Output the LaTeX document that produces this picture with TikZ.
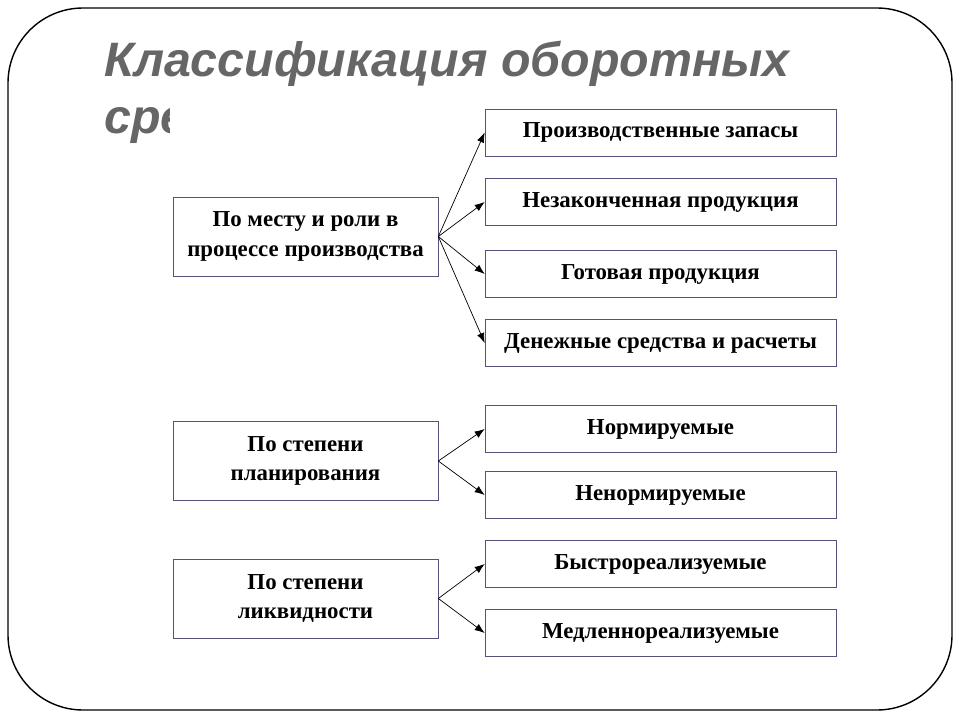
\documentclass[tikz,border=0pt]{standalone}
\usepackage{fontspec}
\setmainfont{Liberation Serif}
\newfontfamily\titlefont{Liberation Sans}
\usetikzlibrary{arrows.meta}
\definecolor{boxline}{HTML}{57507A}
\definecolor{titlegray}{HTML}{666666}
\tikzset{
  group/.style={draw=boxline, fill=white, minimum width=5.3cm, minimum height=1.58cm,
    align=center, font=\bfseries\fontsize{13}{17}\selectfont, inner sep=2pt},
  kind/.style={draw=boxline, fill=white, minimum width=7.02cm, minimum height=0.94cm,
    align=center, font=\bfseries\fontsize{13}{15}\selectfont, inner sep=2pt},
  link/.style={-{Latex[length=2mm,width=1.5mm]}, thin}
}
\begin{document}
\begin{tikzpicture}[x=0.02cm, y=-0.02cm]
  \useasboundingbox (0,0) rectangle (960,720);
  % Frame and title
  \draw[line width=0.8pt, rounded corners=1.5cm] (8,8) rectangle (952,710);
  \node[anchor=north west, text=titlegray, align=left, inner sep=0pt,
    font=\titlefont\bfseries\itshape\fontsize{27.5}{32}\selectfont] (title) at (104,41)
    {Классификация оборотных\\средств};
  \fill[white] (170,97) rectangle (842,666);

  % Groups
  \node[group] (place) at (305.5,236.5) {По месту и роли в\\процессе производства};
  \node[group] (plan) at (305.5,461) {По степени\\планирования};
  \node[group] (liq) at (305.5,598.5) {По степени\\ликвидности};

  % Kinds
  \node[kind] (stock) at (660.5,132.5) {Производственные запасы};
  \node[kind] (wip) at (660.5,202) {Незаконченная продукция};
  \node[kind] (ready) at (660.5,274) {Готовая продукция};
  \node[kind] (cash) at (660.5,343) {Денежные средства и расчеты};
  \node[kind] (norm) at (660.5,429) {Нормируемые};
  \node[kind] (nonnorm) at (660.5,495) {Ненормируемые};
  \node[kind] (fast) at (660.5,564) {Быстрореализуемые};
  \node[kind] (slow) at (660.5,633) {Медленнореализуемые};

  % Connectors
  \foreach \k in {stock,wip,ready,cash} \draw[link] (place.east) -- (\k.west);
  \foreach \k in {norm,nonnorm} \draw[link] (plan.east) -- (\k.west);
  \foreach \k in {fast,slow} \draw[link] (liq.east) -- (\k.west);
\end{tikzpicture}
\end{document}
